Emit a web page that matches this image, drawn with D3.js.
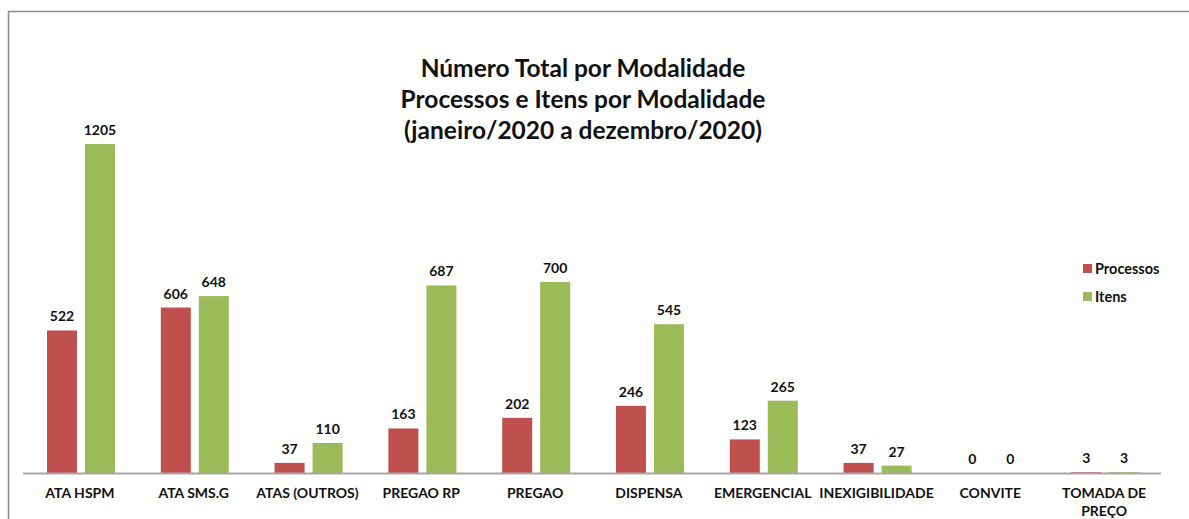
<!DOCTYPE html>
<html>
<head>
<meta charset="utf-8">
<script src="https://cdn.jsdelivr.net/npm/d3@7"></script>
<style>
  body { margin: 0; background: #fff; }
  text { font-family: Lato, "Open Sans", sans-serif; fill: #111; }
</style>
</head>
<body>
<div id="chart"></div>
<script>
const categories = ["ATA HSPM", "ATA SMS.G", "ATAS (OUTROS)", "PREGAO RP", "PREGAO", "DISPENSA", "EMERGENCIAL", "INEXIGIBILIDADE", "CONVITE", "TOMADA DE PREÇO"];
const processos = [522, 606, 37, 163, 202, 246, 123, 37, 0, 3];
const itens = [1205, 648, 110, 687, 700, 545, 265, 27, 0, 3];
const seriesNames = ["Processos", "Itens"];
const titleLines = ["Número Total por Modalidade", "Processos e Itens por Modalidade", "(janeiro/2020 a dezembro/2020)"];

const W = 1189, H = 519;
const colors = ["#c0504d", "#9bbb59"];

const svg = d3.select("#chart")
  .append("svg")
    .attr("width", W)
    .attr("height", H);

// frame
svg.append("rect")
  .attr("x", 8.5).attr("y", 11.5)
  .attr("width", 1190).attr("height", 520)
  .attr("fill", "none")
  .attr("stroke", "#8c8c8c")
  .attr("stroke-width", 1.5);

// title
svg.append("g").selectAll("text")
  .data(titleLines)
  .join("text")
    .attr("x", 583)
    .attr("y", (d, i) => 77 + i * 31)
    .attr("text-anchor", "middle")
    .style("font-size", "24.5px")
    .style("font-weight", "bold")
    .text(d => d);

const x = d3.scaleBand()
  .domain(categories)
  .range([23, 1161]);

const x1 = d3.scaleBand()
  .domain(seriesNames)
  .range([24, 92])
  .paddingInner(0.21);

const y = d3.scaleLinear()
  .domain([0, 1205])
  .range([473, 144]);

const data = categories.map((c, i) => ({cat: c, values: [processos[i], itens[i]]}));

const groups = svg.append("g").selectAll("g")
  .data(data)
  .join("g")
    .attr("transform", d => `translate(${x(d.cat)},0)`);

groups.selectAll("rect")
  .data(d => d.values.map((v, k) => ({key: seriesNames[k], v: v, k: k})))
  .join("rect")
    .attr("x", d => x1(d.key))
    .attr("y", d => y(d.v))
    .attr("width", x1.bandwidth())
    .attr("height", d => y(0) - y(d.v))
    .attr("fill", d => colors[d.k]);

groups.selectAll("text.val")
  .data(d => d.values.map((v, k) => ({key: seriesNames[k], v: v, k: k})))
  .join("text")
    .attr("class", "val")
    .attr("x", d => x1(d.key) + x1.bandwidth() / 2)
    .attr("y", d => y(d.v) - 9)
    .attr("text-anchor", "middle")
    .style("font-size", "14px")
    .style("font-weight", "bold")
    .text(d => d.v);

// baseline
svg.append("line")
  .attr("x1", 23).attr("x2", 1161)
  .attr("y1", y(0) + 0.5).attr("y2", y(0) + 0.5)
  .attr("stroke", "#a6a6a6")
  .attr("stroke-width", 2);

// category labels
const labelLines = {"TOMADA DE PREÇO": ["TOMADA DE", "PREÇO"]};
svg.append("g").selectAll("text")
  .data(categories)
  .join("text")
    .attr("x", d => x(d) + x.bandwidth() / 2)
    .attr("y", 498)
    .attr("text-anchor", "middle")
    .style("font-size", "14px")
    .style("font-weight", "bold")
    .each(function(d) {
      const lines = labelLines[d] || [d];
      d3.select(this).selectAll("tspan")
        .data(lines)
        .join("tspan")
          .attr("x", x(d) + x.bandwidth() / 2)
          .attr("dy", (l, i) => i ? 18 : 0)
          .text(l => l);
    });

// legend
const legend = svg.append("g").selectAll("g")
  .data(seriesNames)
  .join("g")
    .attr("transform", (d, i) => `translate(1083,${264 + i * 28})`);
legend.append("rect")
  .attr("width", 9).attr("height", 9)
  .attr("fill", (d, i) => colors[i]);
legend.append("text")
  .attr("x", 12).attr("y", 10)
  .style("font-size", "14.5px")
  .style("font-weight", "bold")
  .text(d => d);
</script>
</body>
</html>
